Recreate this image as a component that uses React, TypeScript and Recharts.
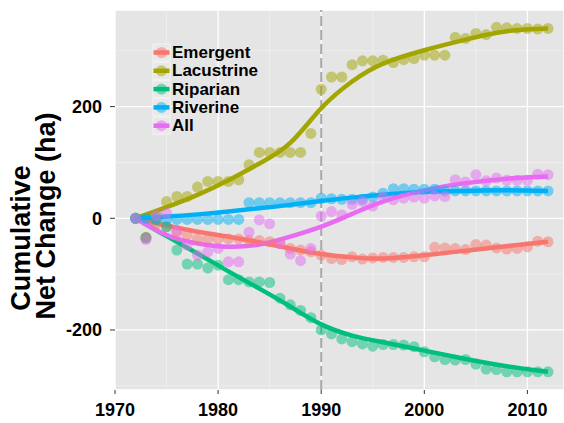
import React from "react";
import {
  CartesianGrid,
  ComposedChart,
  Line,
  ReferenceLine,
  Scatter,
  XAxis,
  YAxis,
} from "recharts";

const years = [
  1972, 1973, 1974, 1975, 1976, 1977, 1978, 1979, 1980, 1981, 1982, 1983, 1984,
  1985, 1986, 1987, 1988, 1989, 1990, 1991, 1992, 1993, 1994, 1995, 1996, 1997,
  1998, 1999, 2000, 2001, 2002, 2003, 2004, 2005, 2006, 2007, 2008, 2009, 2010,
  2011, 2012,
];

const emergent = [
  0, -34, -10, -15, -25, -30, -37, -37, -37, -37, -37, -40, -40, -42, -45, -54,
  -57, -60, -66, -72, -74, -69, -73, -71, -70, -70, -70, -69, -69, -52, -53,
  -54, -56, -47, -48, -53, -55, -54, -51, -41, -42,
];
const lacustrine = [
  0, -35, 5, 30, 39, 39, 56, 66, 66, 66, 69, 96, 118, 118, 118, 118, 118, 152,
  231, 253, 253, 275, 282, 282, 283, 279, 284, 286, 292, 292, 292, 324, 322,
  331, 329, 342, 341, 340, 340, 339, 340,
];
const riparian = [
  0, -35, -3, -15, -57, -82, -82, -89, -84, -110, -110, -114, -114, -115, -143,
  -155, -165, -178, -200, -207, -216, -221, -225, -229, -226, -226, -227, -230,
  -239, -248, -253, -254, -253, -261, -270, -271, -275, -275, -275, -275, -275,
];
const riverine = [
  0, 0, 0, -2, -2, -2, -2, -2, -2, -2, -2, 28, 28, 28, 28, 28, 28, 28, 36, 35,
  34, 34, 34, 38, 45, 53, 53, 52, 52, 52, 49, 49, 49, 49, 49, 49, 49, 49, 49,
  49, 49,
];
const all = [
  0, -38, 5, 9, -22, -48, -66, -60, -54, -78, -78, -25, -3, -10, -45, -64, -76,
  -54, 4, 12, 6, 25, 30, 22, 38, 33, 36, 38, 36, 40, 39, 69, 65, 78, 67, 72, 68,
  68, 68, 79, 78,
];

// smoothed trend
const fitYears = [
  1972, 1975, 1978, 1981, 1984, 1987, 1990, 1993, 1996, 2000, 2004, 2008, 2012,
];
const emergentFit = [0, -13, -24, -33, -43, -54, -64, -70, -72, -66, -58, -50, -42];
const lacustrineFit = [0, 20, 42, 68, 98, 135, 197, 245, 277, 301, 320, 335, 340];
const riparianFit = [0, -32, -63, -95, -126, -158, -190, -210, -222, -237, -252, -265, -275];
const riverineFit = [0, 3, 7, 12, 18, 24, 31, 37, 42, 47, 49, 50, 49];
const allFit = [0, -30, -45, -51, -47, -33, -15, 8, 30, 50, 63, 71, 75];

const xTicks = [1970, 1980, 1990, 2000, 2010];
const xMinor = [1975, 1985, 1995, 2005];
const yTicks = [-200, 0, 200];
const yMinor = [-300, -100, 100, 300];

const series = [
  { name: "Emergent", color: "#F8766D", points: emergent, fit: emergentFit },
  { name: "Lacustrine", color: "#A3A500", points: lacustrine, fit: lacustrineFit },
  { name: "Riparian", color: "#00BF7D", points: riparian, fit: riparianFit },
  { name: "Riverine", color: "#00B0F6", points: riverine, fit: riverineFit },
  { name: "All", color: "#E76BF3", points: all, fit: allFit },
];

const font = "'Liberation Sans', Arial, sans-serif";
const tickStyle = { fill: "#000", fontSize: 18, fontWeight: "bold", fontFamily: font };

const toRows = (xs: number[], vs: number[]) =>
  xs.map((x, i) => ({ year: x, value: vs[i] }));

const Dot = (color: string) => (p: any) =>
  <circle cx={p.cx} cy={p.cy} r={5.5} fill={color} fillOpacity={0.5} />;

const App = () => {
  return (
    <div style={{ position: "fixed", left: 0, top: 0, width: 564, height: 423, background: "#fff" }}>
      <ComposedChart width={564} height={423} margin={{ top: 10, right: 0, bottom: 0, left: 0 }}>
        <CartesianGrid
          fill="#E5E5E5"
          stroke="#F2F2F2"
          strokeWidth={0.7}
          horizontalValues={yMinor}
          verticalValues={xMinor}
        />
        <CartesianGrid stroke="#FFFFFF" strokeWidth={1.3} />
        <XAxis
          type="number"
          dataKey="year"
          domain={[1970, 2013.55]}
          ticks={xTicks}
          allowDataOverflow
          height={33}
          axisLine={false}
          tickSize={4}
          tickMargin={9}
          tickLine={{ stroke: "#333" }}
          tick={tickStyle}
        />
        <YAxis
          type="number"
          dataKey="value"
          domain={[-307.5, 373]}
          ticks={yTicks}
          allowDataOverflow
          width={115}
          axisLine={false}
          tickSize={5}
          tickMargin={8}
          tickLine={{ stroke: "#333" }}
          tick={tickStyle}
        />
        <ReferenceLine x={1990} stroke="#A8A8A8" strokeWidth={2} strokeDasharray="10 4" />
        {series.map((s) => (
          <Scatter
            key={s.name + "-pts"}
            data={toRows(years, s.points)}
            shape={Dot(s.color)}
            isAnimationActive={false}
          />
        ))}
        {series.map((s) => (
          <Line
            key={s.name + "-fit"}
            data={toRows(fitYears, s.fit)}
            dataKey="value"
            type="natural"
            stroke={s.color}
            strokeWidth={4.5}
            dot={false}
            activeDot={false}
            isAnimationActive={false}
          />
        ))}
      </ComposedChart>
      <svg
        width={564}
        height={423}
        style={{ position: "absolute", left: 0, top: 0, pointerEvents: "none" }}
      >
        <g fontFamily={font} fontWeight="bold" fontSize={27} fill="#000" textAnchor="middle">
          <text transform="translate(21,238) rotate(-90)" dominantBaseline="central">
            Cumulative
          </text>
          <text transform="translate(46,216) rotate(-90)" dominantBaseline="central">
            Net Change (ha)
          </text>
        </g>
        {series.map((s, i) => {
          const cy = 52.5 + i * 18.3;
          return (
            <g key={s.name}>
              <rect x={153} y={cy - 8.5} width={17} height={17} fill="#E8E8E8" stroke="#F4F4F4" />
              <circle cx={161.5} cy={cy} r={5.5} fill={s.color} fillOpacity={0.5} />
              <line x1={153.5} x2={169.5} y1={cy} y2={cy} stroke={s.color} strokeWidth={4.5} />
              <text
                x={172}
                y={cy}
                dominantBaseline="central"
                fontFamily={font}
                fontWeight="bold"
                fontSize={17}
                fill="#000"
              >
                {s.name}
              </text>
            </g>
          );
        })}
      </svg>
    </div>
  );
};

export default App;
